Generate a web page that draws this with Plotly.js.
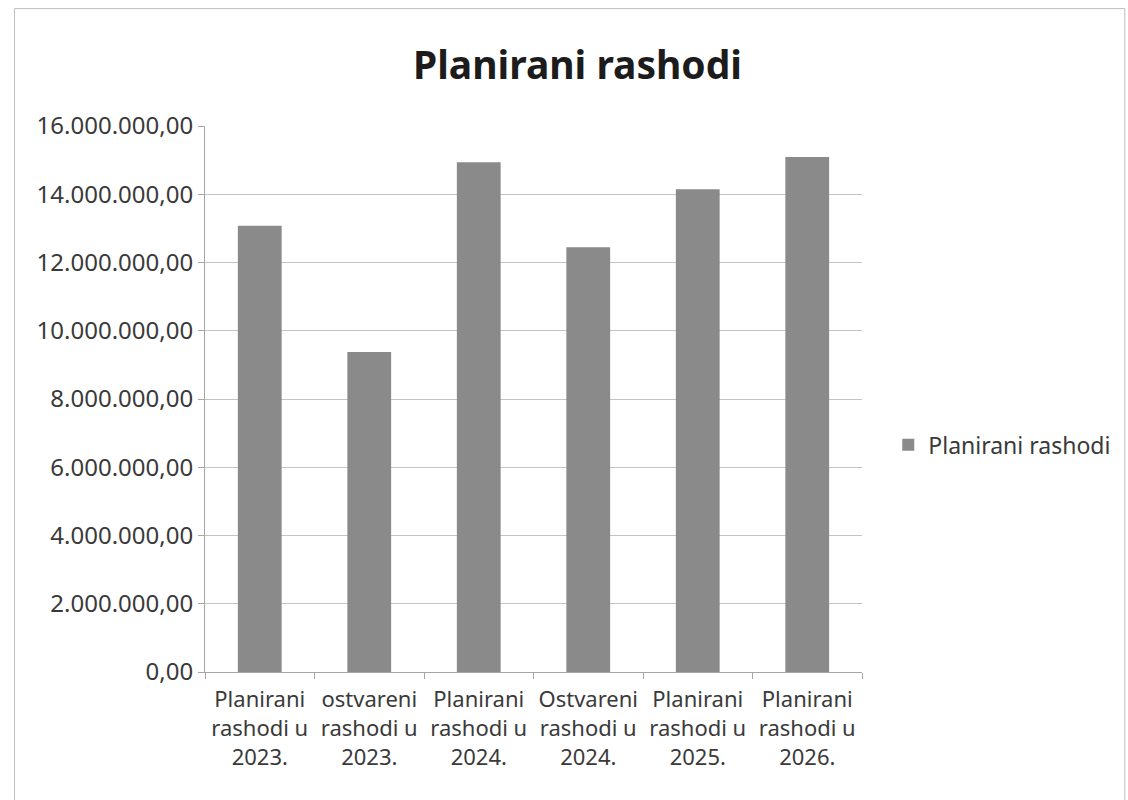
<!DOCTYPE html>
<html>
<head>
<meta charset="utf-8">
<script src="https://cdn.plot.ly/plotly-3.0.1.min.js"></script>
<style>html,body{margin:0;padding:0;background:#fff;}#chart{width:1128px;height:800px;}</style>
</head>
<body>
<div id="chart"></div>
<script>
const categories = [
  "Planirani<br>rashodi u<br>2023.",
  "ostvareni<br>rashodi u<br>2023.",
  "Planirani<br>rashodi u<br>2024.",
  "Ostvareni<br>rashodi u<br>2024.",
  "Planirani<br>rashodi u<br>2025.",
  "Planirani<br>rashodi u<br>2026."
];
const values = [13080000, 9380000, 14940000, 12450000, 14150000, 15090000];
const seriesName = "Planirani rashodi";
const yTicks = [0, 2000000, 4000000, 6000000, 8000000, 10000000, 12000000, 14000000, 16000000];

const font = "Noto Sans, Open Sans, sans-serif";
const data = [{
  type: "bar",
  x: categories,
  y: values,
  name: seriesName,
  marker: {color: "#8a8a8a"},
  showlegend: true
}];
const layout = {
  width: 1128, height: 800,
  paper_bgcolor: "#fff", plot_bgcolor: "#fff",
  separators: ",.",
  margin: {l: 205, r: 263, t: 126, b: 128},
  title: {text: "<b>Planirani rashodi</b>", x: 0.512, xanchor: "center", y: 0.918, yanchor: "middle",
          font: {family: font, size: 39, color: "#1c1c1c"}},
  bargap: 0.6,
  xaxis: {
    type: "category",
    showline: true, linecolor: "#a6a6a6", linewidth: 1,
    ticks: "outside", ticklen: 6, tickcolor: "#a6a6a6",
    tickson: "boundaries",
    ticklabelstandoff: 8,
    showgrid: false,
    tickfont: {family: font, size: 22, color: "#3a3a3a"}
  },
  yaxis: {
    range: [0, 16000000],
    tickvals: yTicks,
    tickformat: ",.2f",
    showline: true, linecolor: "#a6a6a6", linewidth: 1,
    ticks: "outside", ticklen: 6, tickcolor: "#a6a6a6",
    showgrid: true, gridcolor: "#c4c4c4", gridwidth: 1,
    zeroline: false,
    tickfont: {family: font, size: 24, color: "#3a3a3a"}
  },
  legend: {x: 1.04, y: 0.416, xanchor: "left", yanchor: "middle",
           font: {family: font, size: 23, color: "#3a3a3a"}, bgcolor: "rgba(0,0,0,0)"},
  shapes: [{type: "rect", xref: "paper", yref: "paper", x0: -0.29, x1: 1.4, y0: -0.32, y1: 1.215,
            line: {color: "#bdbdbd", width: 1}}]
};
Plotly.newPlot("chart", data, layout, {displayModeBar: false});
</script>
</body>
</html>
